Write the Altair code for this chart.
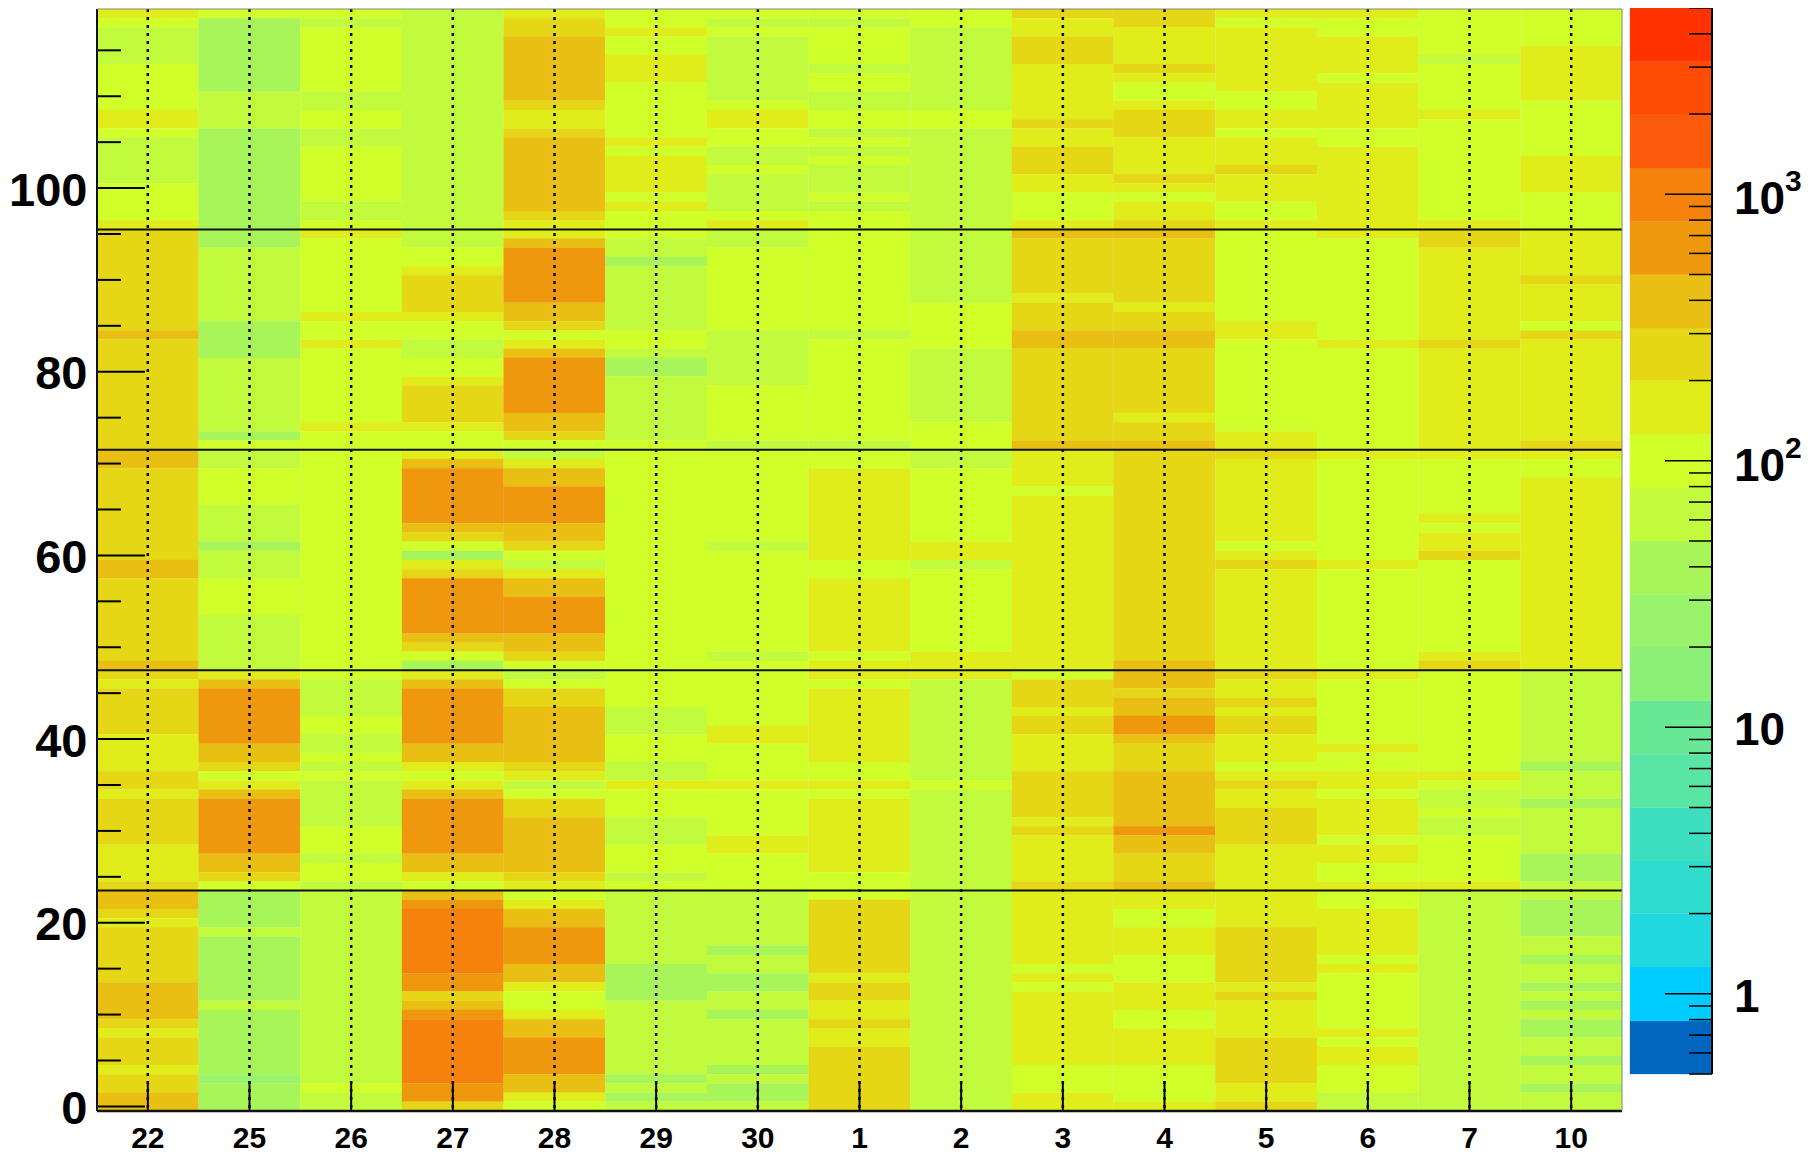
import altair as alt
import pandas as pd

DAYS = ["22","25","26","27","28","29","30","1","2","3","4","5","6","7","10"]
# representative count read for each colour band of the palette
BAND_VALUE = {8:25,9:40,10:63,11:100,12:160,13:250,14:400,15:630,16:1000}
EDGES = [0.5,0.79,1.26,2,3.15,5,7.9,12.6,20,31.5,50,79,126,200,315,500,792,1256,2000,3150]
TOP_EDGE = 5000
COLORS = ["#0066bf","#00ccff","#20d8e0","#2fdccd","#3ddfc0","#59e5a5","#68e895","#8af078","#99f46b","#a8f55a",
          "#c2fb3e","#d0ff2a","#e1ed1a","#e5d716","#e8bf12","#ef980e","#f4820c","#fc5c0a","#ff4c00","#ff3300"]

# (band, number of rows) from the top row downwards
C22 = [(12,1),(11,1),(10,4),(11,5),(12,2),(11,1),(10,5),(11,4),(12,1),(13,11),(14,1),(13,12),(14,2),(13,10),(14,2),(13,9),(14,1),(13,1),(12,1),(13,5),(12,4),(13,2),(12,1),(13,5),(12,4),(13,1),(14,2),(13,1),(12,1),(13,6),(14,4),(13,1),(12,1),(13,3),(12,1),(13,2),(14,2)]
C25 = [(11,1),(9,8),(10,4),(9,13),(10,8),(9,4),(10,8),(9,1),(11,1),(10,2),(11,4),(10,4),(9,1),(10,3),(11,4),(10,6),(12,1),(14,1),(15,6),(14,2),(13,1),(11,1),(12,1),(14,1),(15,6),(14,2),(13,1),(11,1),(9,4),(10,1),(9,7),(10,1),(9,7),(8,1),(9,3)]
C26 = [(11,1),(10,1),(11,7),(10,2),(11,2),(10,2),(11,6),(10,2),(11,1),(12,1),(11,8),(12,1),(11,2),(12,1),(11,8),(12,1),(11,27),(10,4),(11,2),(10,2),(11,1),(10,1),(11,1),(10,5),(11,3),(10,1),(11,2),(10,22),(11,1),(10,2)]
C27 = [(10,26),(11,2),(12,1),(13,4),(12,1),(11,2),(10,2),(11,2),(12,1),(13,4),(12,1),(11,2),(12,1),(14,1),(15,6),(14,1),(13,1),(11,1),(9,1),(12,1),(13,1),(15,6),(14,1),(13,1),(11,1),(9,1),(12,1),(14,1),(15,6),(14,2),(12,1),(11,1),(12,1),(14,1),(15,6),(14,2),(12,1),(11,1),(14,1),(15,1),(16,7),(15,2),(13,1),(14,1),(15,1),(16,7),(15,2),(13,1)]
C28 = [(12,1),(13,2),(14,7),(13,1),(12,2),(13,1),(14,8),(13,1),(12,2),(14,1),(15,6),(14,2),(13,1),(11,1),(12,1),(14,1),(15,6),(14,2),(13,1),(11,1),(10,1),(12,1),(14,2),(15,4),(14,2),(13,1),(11,1),(10,1),(12,1),(14,2),(15,4),(14,2),(13,1),(11,1),(10,1),(11,1),(13,2),(14,6),(13,1),(12,1),(10,1),(11,1),(13,2),(14,6),(13,1),(12,1),(11,1),(12,1),(14,2),(15,4),(14,2),(12,1),(11,2),(12,1),(14,2),(15,4),(14,2),(12,1),(11,1)]
C29 = [(11,2),(12,1),(11,2),(12,3),(11,6),(12,1),(11,1),(12,4),(11,1),(12,1),(11,3),(10,2),(9,1),(10,7),(11,2),(10,1),(9,2),(10,7),(11,29),(10,3),(11,3),(10,2),(12,1),(11,3),(10,3),(11,3),(10,1),(11,1),(10,8),(9,4),(10,8),(9,1),(10,1),(9,1),(10,1)]
C30 = [(11,1),(10,1),(11,1),(10,7),(11,1),(12,2),(11,2),(10,2),(11,1),(10,4),(11,1),(12,1),(10,2),(11,9),(10,6),(11,6),(10,1),(11,10),(10,1),(11,11),(10,1),(11,7),(12,2),(11,4),(12,1),(11,5),(12,2),(11,4),(10,6),(9,1),(10,2),(9,2),(10,2),(9,1),(10,5),(9,1),(10,1),(9,2),(10,1)]
C1 = [(11,1),(10,1),(11,4),(10,1),(11,2),(10,2),(11,2),(10,1),(11,1),(10,1),(11,1),(10,3),(11,1),(10,1),(11,13),(10,1),(11,11),(10,1),(11,2),(12,10),(11,2),(12,8),(11,1),(12,2),(11,1),(12,8),(11,2),(12,1),(11,1),(12,8),(11,3),(13,8),(12,1),(13,2),(12,2),(13,1),(12,2),(13,7)]
C2 = [(11,2),(10,9),(11,2),(10,11),(10,8),(11,5),(10,8),(11,3),(10,2),(11,8),(12,2),(10,1),(11,9),(12,3),(10,11),(11,1),(10,35)]
C3 = [(13,1),(12,2),(13,3),(12,6),(13,1),(12,2),(13,3),(12,2),(11,3),(12,1),(14,1),(13,6),(12,1),(13,3),(14,2),(13,10),(14,1),(12,4),(11,1),(12,19),(11,1),(13,3),(12,1),(13,2),(12,4),(13,5),(12,1),(13,1),(12,5),(13,1),(12,8),(11,1),(12,1),(11,1),(12,8),(11,3),(12,2)]
C4 = [(13,2),(12,4),(13,1),(12,1),(11,2),(12,1),(13,3),(12,4),(13,1),(12,1),(11,1),(12,2),(13,1),(14,1),(13,7),(12,1),(13,2),(14,2),(13,7),(12,1),(13,2),(14,1),(13,23),(14,3),(13,1),(14,2),(15,2),(14,1),(13,3),(14,6),(15,1),(14,2),(13,3),(14,1),(12,2),(11,2),(12,3),(11,3),(12,3),(11,2),(12,4),(11,4),(12,1)]
C5 = [(12,1),(11,1),(12,7),(11,2),(12,2),(11,1),(12,3),(13,1),(12,3),(11,2),(12,1),(11,10),(12,2),(11,10),(12,2),(13,1),(12,9),(11,1),(12,1),(13,1),(12,11),(13,1),(12,2),(13,1),(12,1),(13,2),(12,3),(11,1),(12,1),(13,1),(12,2),(13,4),(12,9),(13,6),(12,1),(13,1),(12,4),(13,5),(12,2),(13,1)]
C6 = [(12,1),(11,2),(12,4),(11,1),(12,5),(11,2),(12,10),(11,11),(12,1),(11,11),(12,1),(11,11),(12,1),(11,11),(12,1),(11,7),(12,1),(11,2),(12,2),(11,1),(12,4),(11,1),(12,2),(11,2),(12,1),(11,2),(12,5),(11,1),(12,1),(11,6),(12,1),(11,1),(12,2),(11,3),(10,2)]
C7 = [(11,5),(10,1),(11,5),(12,1),(11,11),(12,1),(13,2),(12,10),(13,1),(12,12),(11,6),(12,1),(11,1),(12,2),(13,1),(11,10),(12,1),(13,1),(11,11),(12,1),(11,1),(10,2),(11,1),(10,2),(11,5),(12,1),(10,24)]
C10 = [(11,4),(12,6),(11,6),(12,4),(11,4),(12,5),(13,1),(12,4),(11,1),(13,1),(12,11),(13,1),(12,1),(11,2),(12,21),(10,10),(9,1),(10,3),(9,1),(10,5),(9,3),(10,2),(9,4),(10,2),(9,1),(10,2),(9,1),(10,1),(9,1),(10,1),(9,2),(10,2),(9,1),(10,2),(9,1),(10,2)]
COLUMNS = [C22,C25,C26,C27,C28,C29,C30,C1,C2,C3,C4,C5,C6,C7,C10]

MAJOR_Y = [0,20,40,60,80,100]
MINOR_Y = [5,10,15,25,30,35,45,50,55,65,70,75,85,90,95,105,110,115]
SECTOR_LINES = [23.5,47.5,71.5,95.5]
BAR_MAJOR = [1,10,100,1000]
BAR_MINOR = [0.5,0.6,0.7,0.8,0.9,2,3,4,5,6,7,8,9,20,30,40,50,60,70,80,90,200,300,400,500,600,700,800,900,2000,3000,4000,5000]
BAR_PLAIN = [(1,"1"),(10,"10")]
BAR_POWER = [(100,"10","2"),(1000,"10","3")]

W, H = 1525, 1102
BAR_L, BAR_R = 1533, 1615
FONT = "Liberation Sans"

rows = []
for day, runs in zip(DAYS, COLUMNS):
    assert sum(n for _, n in runs) == 120, (day, sum(n for _, n in runs))
    r = 120
    for band, n in runs:
        rows.append({"day": day, "lo": r - n - 0.5, "hi": r - 0.5, "v": BAND_VALUE[band]})
        r -= n
cells = pd.DataFrame(rows)

xs = alt.Scale(type="band", domain=DAYS, range=[0, W], paddingInner=0, paddingOuter=0)
ys = alt.Scale(type="linear", domain=[-0.5, 119.5], range=[H, 0], nice=False, zero=False)
cs = alt.Scale(type="threshold", domain=EDGES[1:], range=COLORS)
bs = alt.Scale(type="log", domain=[0.5, 5000], range=[1065, -1], nice=False)

heat = alt.Chart(cells).mark_rect(strokeWidth=0.3).encode(
    x=alt.X("day:N", scale=xs, sort=DAYS, title=None,
            axis=alt.Axis(domain=False, ticks=False, labelFont=FONT, labelFontWeight="bold", labelFontSize=30,
                          labelColor="black", labelAngle=0, labelPadding=12, grid=False)),
    y=alt.Y("lo:Q", scale=ys, title=None,
            axis=alt.Axis(values=MAJOR_Y, domain=False, ticks=False, labelFont=FONT, labelFontWeight="bold",
                          labelFontSize=47, labelColor="black", labelPadding=10, labelOffset=3, grid=False, format="d")),
    y2="hi:Q",
    color=alt.Color("v:Q", scale=cs, legend=None),
    stroke=alt.Stroke("v:Q", scale=cs, legend=None),
)

def xax():
    return alt.X("day:N", scale=xs, sort=DAYS, axis=None)

def yax(f="t:Q"):
    return alt.Y(f, scale=ys, axis=None)

day_df = pd.DataFrame({"day": DAYS})
dots = alt.Chart(day_df).mark_rule(color="black", strokeWidth=2.5, strokeDash=[3, 5]).encode(x=xax())
xticks = alt.Chart(day_df).mark_rule(color="black", strokeWidth=2).encode(
    x=xax(), y=alt.value(H - 30), y2=alt.value(H))
maj = alt.Chart(pd.DataFrame({"t": MAJOR_Y})).mark_rule(color="black", strokeWidth=2).encode(
    y=yax(), x=alt.value(0), x2=alt.value(48))
mnr = alt.Chart(pd.DataFrame({"t": MINOR_Y})).mark_rule(color="black", strokeWidth=2).encode(
    y=yax(), x=alt.value(0), x2=alt.value(24))
lines = alt.Chart(pd.DataFrame({"t": SECTOR_LINES})).mark_rule(color="#111111", strokeWidth=2).encode(
    y=yax(), x=alt.value(0), x2=alt.value(W))
frame_l = alt.Chart(pd.DataFrame({"t": [0]})).mark_rule(color="#111111", strokeWidth=2).encode(
    x=alt.value(0), y=alt.value(0), y2=alt.value(H))
frame_b = alt.Chart(pd.DataFrame({"t": [0]})).mark_rule(color="#111111", strokeWidth=2.5).encode(
    x=alt.value(0), x2=alt.value(W), y=alt.value(H))
frame_t = alt.Chart(pd.DataFrame({"t": [0]})).mark_rule(color="#888888", strokeWidth=1).encode(
    x=alt.value(0), x2=alt.value(W), y=alt.value(0))
frame_r = alt.Chart(pd.DataFrame({"t": [0]})).mark_rule(color="#888888", strokeWidth=1).encode(
    x=alt.value(W), y=alt.value(0), y2=alt.value(H))

edges_all = EDGES + [TOP_EDGE]
bar_df = pd.DataFrame({"lo": edges_all[:-1], "hi": edges_all[1:], "v": EDGES})
bar = alt.Chart(bar_df).mark_rect(strokeWidth=0.3).encode(
    x=alt.value(BAR_L), x2=alt.value(BAR_R),
    y=alt.Y("lo:Q", scale=bs, axis=None), y2="hi:Q",
    color=alt.Color("v:Q", scale=cs, legend=None),
    stroke=alt.Stroke("v:Q", scale=cs, legend=None),
)
by = lambda f="t:Q": alt.Y(f, scale=bs, axis=None)
bar_maj = alt.Chart(pd.DataFrame({"t": BAR_MAJOR})).mark_rule(color="black", strokeWidth=1.5).encode(
    y=by(), x=alt.value(BAR_R - 47), x2=alt.value(BAR_R))
bar_mnr = alt.Chart(pd.DataFrame({"t": BAR_MINOR})).mark_rule(color="black", strokeWidth=1.5).encode(
    y=by(), x=alt.value(BAR_R - 23), x2=alt.value(BAR_R))
bar_edge = alt.Chart(pd.DataFrame({"t": [0.5, 5000]})).mark_rule(color="black", strokeWidth=2).encode(
    x=alt.value(BAR_R), y=alt.Y("min(t):Q", scale=bs, axis=None), y2=alt.Y2("max(t):Q"))
txt = dict(font=FONT, fontWeight="bold", color="black", align="left", baseline="middle")
plain = alt.Chart(pd.DataFrame(BAR_PLAIN, columns=["t", "s"])).mark_text(fontSize=46, dy=4, **txt).encode(
    y=by(), x=alt.value(BAR_R + 22), text="s:N")
power = alt.Chart(pd.DataFrame(BAR_POWER, columns=["t", "s", "e"])).mark_text(fontSize=46, dy=6, **txt).encode(
    y=by(), x=alt.value(BAR_R + 22), text="s:N")
expo = alt.Chart(pd.DataFrame(BAR_POWER, columns=["t", "s", "e"])).mark_text(fontSize=30, dy=-12, **txt).encode(
    y=by(), x=alt.value(BAR_R + 73), text="e:N")

chart = alt.layer(heat, dots, xticks, maj, mnr, lines, frame_l, frame_b, frame_t, frame_r,
                  bar, bar_maj, bar_mnr, bar_edge, plain, power, expo
                  ).resolve_scale(y="independent", x="independent", color="independent", stroke="independent").properties(
    width=BAR_R, height=H,
    autosize=alt.AutoSizeParams(type="none"),
    padding={"left": 89, "top": 1, "right": 90, "bottom": 44},
    background="white",
).configure_view(stroke=None)
chart.save("out.html", embed_options={"renderer": "svg", "actions": False})
